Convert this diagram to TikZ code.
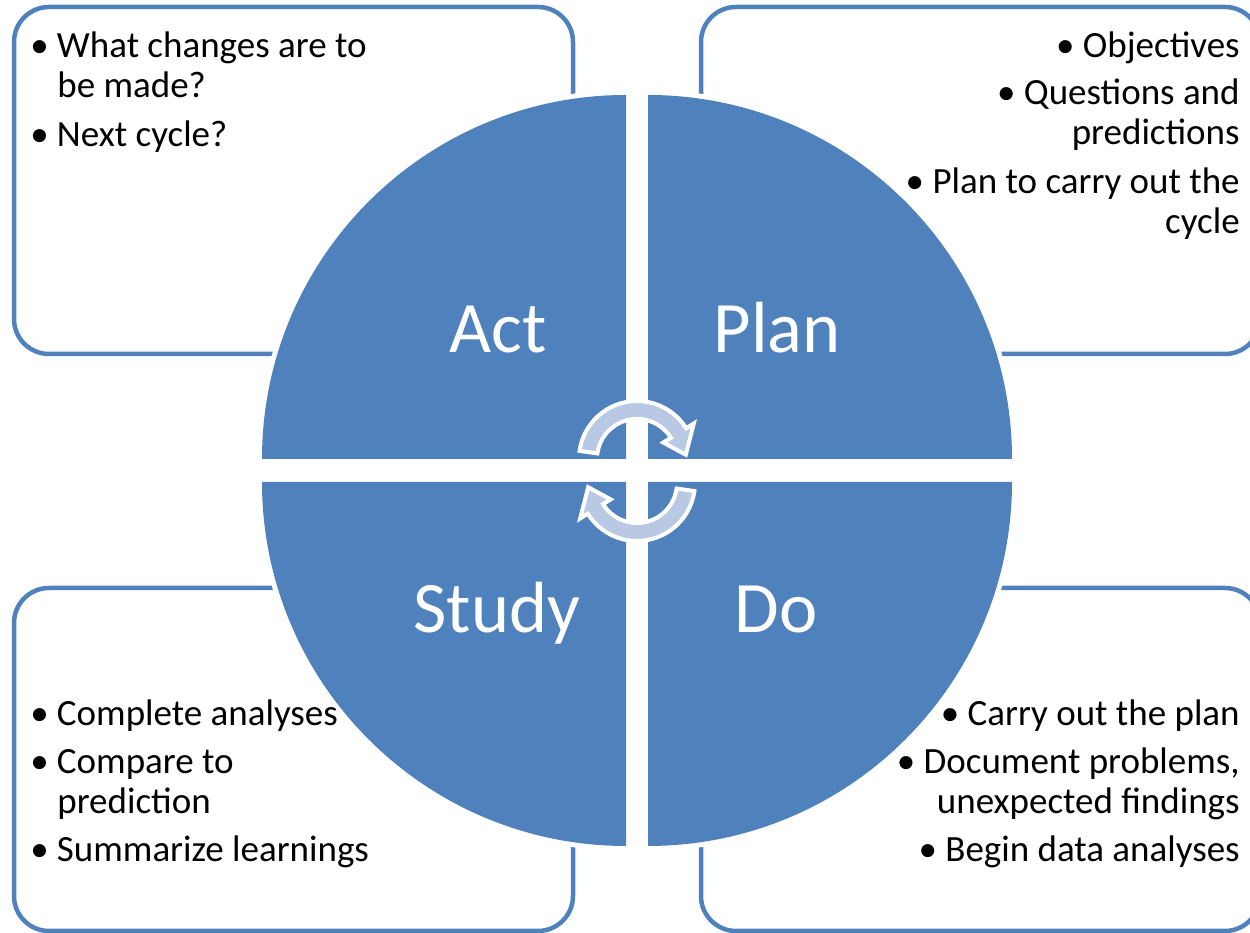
\documentclass[tikz,border=0pt]{standalone}
\usepackage{fontspec}
\setmainfont{Carlito}
\definecolor{pdsa}{HTML}{4F81BD}
\definecolor{band}{HTML}{B9C9E3}
\begin{document}
\begin{tikzpicture}[x=0.6pt,y=0.6pt,
  boxline/.style={draw=pdsa, line width=2.7pt, rounded corners=21pt},
  quad/.style={fill=pdsa},
  halo/.style={fill=white},
  biglabel/.style={text=white, font=\fontsize{43.5pt}{52pt}\selectfont, inner sep=0pt, anchor=base},
  bodyL/.style={font=\fontsize{22.2pt}{24pt}\selectfont, inner sep=0pt, anchor=base west},
  bodyR/.style={font=\fontsize{22.2pt}{24pt}\selectfont, inner sep=0pt, anchor=base east},
  cyc/.style={fill=band, draw=white, line width=2.4pt, line join=miter}]
\useasboundingbox (0,0) rectangle (1250,933);
\clip (0,0) rectangle (1250,933);
% text boxes
\draw[boxline] (14,579) rectangle (573,926);
\draw[boxline] (701,579) rectangle (1260,926);
\draw[boxline] (14,2) rectangle (573,345);
\draw[boxline] (701,2) rectangle (1260,345);
% white halos
\fill[halo] (626,474) -- ++(180:369) arc[start angle=180,end angle=90,radius=369] -- cycle;
\fill[halo] (648,474) -- ++(90:369) arc[start angle=90,end angle=0,radius=369] -- cycle;
\fill[halo] (626,451) -- ++(270:369) arc[start angle=270,end angle=180,radius=369] -- cycle;
\fill[halo] (648,451) -- ++(0:369) arc[start angle=0,end angle=-90,radius=369] -- cycle;
% quadrants
\fill[quad] (626,474) -- ++(180:364) arc[start angle=180,end angle=90,radius=364] -- cycle;
\fill[quad] (648,474) -- ++(90:364) arc[start angle=90,end angle=0,radius=364] -- cycle;
\fill[quad] (626,451) -- ++(270:364) arc[start angle=270,end angle=180,radius=364] -- cycle;
\fill[quad] (648,451) -- ++(0:364) arc[start angle=0,end angle=-90,radius=364] -- cycle;
% labels
\node[biglabel] (act) at (498,580) {Act};
\node[biglabel] (plan) at (777,580) {Plan};
\node[biglabel] (study) at (497,300) {Study};
\node[biglabel] (do) at (776,300) {Do};
% cycle arrows
\begin{scope}[shift={(637,474)}]
\filldraw[cyc] (172:58) arc[start angle=172,end angle=32,radius=58] -- (32:67) -- (5:49) -- (32:31) -- (32:40) arc[start angle=32,end angle=172,radius=40] -- cycle;
\end{scope}
\begin{scope}[shift={(637,450)}]
\filldraw[cyc] (352:58) arc[start angle=352,end angle=212,radius=58] -- (212:67) -- (185:49) -- (212:31) -- (212:40) arc[start angle=212,end angle=352,radius=40] -- cycle;
\end{scope}
% top-left text
\node[bodyL] (tl1) at (30,875) {\makebox[16pt][l]{•}What changes are to};
\node[bodyL] (tl2) at (57,835) {be made?};
\node[bodyL] (tl3) at (30,786) {\makebox[16pt][l]{•}Next cycle?};
% top-right text
\node[bodyR] (tr1) at (1240,875) {• Objectives};
\node[bodyR] (tr2) at (1240,828) {• Questions and};
\node[bodyR] (tr3) at (1240,788) {predictions};
\node[bodyR] (tr4) at (1240,739) {• Plan to carry out the};
\node[bodyR] (tr5) at (1240,699) {cycle};
% bottom-left text
\node[bodyL] (bl1) at (30,207) {\makebox[16pt][l]{•}Complete analyses};
\node[bodyL] (bl2) at (30,159) {\makebox[16pt][l]{•}Compare to};
\node[bodyL] (bl3) at (57,119) {prediction};
\node[bodyL] (bl4) at (30,71) {\makebox[16pt][l]{•}Summarize learnings};
% bottom-right text
\node[bodyR] (br1) at (1240,207) {• Carry out the plan};
\node[bodyR] (br2) at (1240,159) {• Document problems,};
\node[bodyR] (br3) at (1240,119) {unexpected findings};
\node[bodyR] (br4) at (1240,71) {• Begin data analyses};
\end{tikzpicture}
\end{document}
